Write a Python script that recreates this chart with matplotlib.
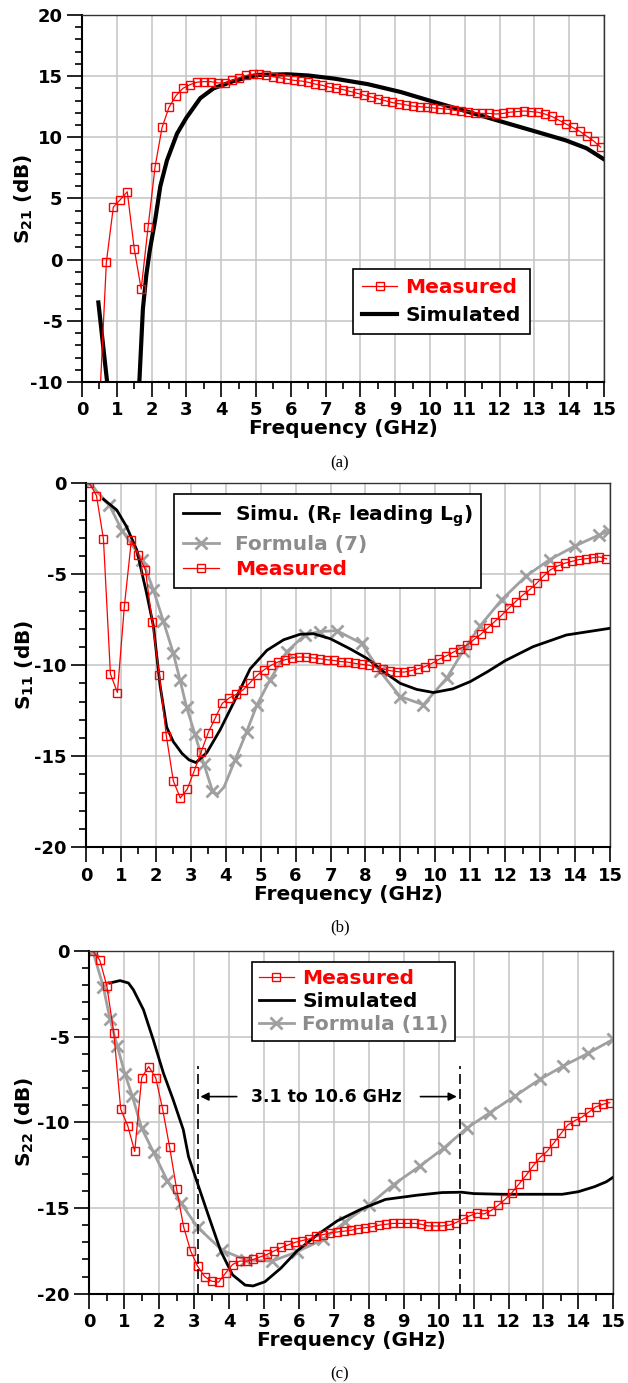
import numpy as np
import matplotlib
matplotlib.use('Agg')
import matplotlib.pyplot as plt
from matplotlib.ticker import MultipleLocator

plt.rcParams['font.family'] = 'DejaVu Sans'
plt.rcParams['font.weight'] = 'bold'
plt.rcParams['axes.labelweight'] = 'bold'
plt.rcParams['axes.unicode_minus'] = False
plt.rcParams['mathtext.default'] = 'regular'

RED = '#ff0000'
GRAY = '#a0a0a0'
GRAY_TXT = '#8c8c8c'

# ---- (a) S21 ----
f_meas_a = np.round(np.arange(0.5, 15.0, 0.2), 1)
s21_meas = [-12, -0.2, 4.3, 4.9, 5.55, 0.9, -2.4, 2.7, 7.6, 10.8,
            12.45, 13.4, 14.0, 14.3, 14.5, 14.55, 14.55, 14.45, 14.4, 14.65,
            14.85, 15.05, 15.15, 15.15, 15.05, 14.95, 14.85, 14.75, 14.65, 14.6,
            14.5, 14.35, 14.25, 14.1, 14.0, 13.9, 13.75, 13.6, 13.45, 13.3,
            13.15, 13.0, 12.85, 12.75, 12.65, 12.55, 12.5, 12.45, 12.4, 12.35,
            12.3, 12.2, 12.15, 12.1, 12.0, 11.95, 11.95, 11.9, 11.95, 12.05,
            12.1, 12.15, 12.1, 12.05, 11.9, 11.7, 11.4, 11.1, 10.8, 10.5,
            10.1, 9.7, 9.2]
f_sim_a1 = [0.47, 0.76]
s21_sim1 = [-3.5, -11.0]
f_sim_a2 = [1.63, 1.75, 1.85, 1.95, 2.1, 2.25, 2.44, 2.73, 3.0, 3.4, 3.78, 4.36,
            5.03, 5.9, 6.5, 7.24, 8.2, 9.16, 10.1, 11.07, 12.03, 13.0, 13.9, 14.5, 15.0]
s21_sim2 = [-11, -4.0, -1.2, 0.8, 3.2, 6.0, 8.1, 10.3, 11.6, 13.2, 14.0, 14.6,
            15.1, 15.15, 15.05, 14.8, 14.35, 13.7, 12.9, 12.1, 11.3, 10.5, 9.75, 9.1, 8.2]

# ---- (b) S11 ----
f_meas_bc = np.round(np.arange(0.1, 15.0, 0.2), 1)
s11_meas = [0, -0.68, -3.06, -10.48, -11.5, -6.74, -3.13, -3.94, -4.75, -7.65,
            -10.55, -13.88, -16.35, -17.3, -16.8, -15.8, -14.75, -13.7, -12.9, -12.1,
            -11.8, -11.6, -11.35, -10.95, -10.55, -10.25, -10.0, -9.82, -9.7, -9.6,
            -9.55, -9.56, -9.6, -9.65, -9.7, -9.74, -9.8, -9.83, -9.9, -9.95,
            -10.0, -10.1, -10.2, -10.3, -10.35, -10.38, -10.3, -10.2, -10.08, -9.9,
            -9.68, -9.5, -9.3, -9.1, -8.9, -8.6, -8.3, -7.95, -7.6, -7.25,
            -6.87, -6.5, -6.15, -5.85, -5.5, -5.1, -4.75, -4.55, -4.4, -4.3,
            -4.2, -4.15, -4.1, -4.05, -4.15]
f_sim_b = [0.5, 0.88, 1.16, 1.45, 1.73, 1.93, 2.12, 2.31, 2.5, 2.75, 2.95, 3.15, 3.46,
           3.84, 4.32, 4.7, 5.18, 5.66, 6.13, 6.51, 6.99, 7.56, 8.04, 8.52, 9.0,
           9.47, 9.95, 10.5, 11.0, 11.5, 12.0, 12.8, 13.75, 14.7, 15.0]
s11_sim = [-0.88, -1.47, -2.38, -3.65, -6.0, -7.84, -11.1, -13.4, -14.2, -14.85, -15.2, -15.35, -14.8,
           -13.55, -11.7, -10.2, -9.18, -8.6, -8.3, -8.27, -8.54, -9.1, -9.62, -10.36, -11.0,
           -11.33, -11.5, -11.3, -10.9, -10.35, -9.75, -8.98, -8.34, -8.06, -7.97]
f_form_b = [0.1, 0.67, 1.03, 1.61, 1.93, 2.21, 2.5, 2.69, 2.88, 3.12, 3.37, 3.62, 3.76,
            3.95, 4.27, 4.6, 4.89, 5.27, 5.75, 6.27, 6.7, 7.18, 7.89, 8.42, 8.99, 9.66,
            10.33, 10.8, 11.28, 11.9, 12.6, 13.27, 13.99, 14.7, 14.97]
s11_form = [0, -1.2, -2.6, -4.2, -5.86, -7.55, -9.34, -10.8, -12.3, -13.8, -15.4, -16.9, -17.1,
            -16.7, -15.2, -13.65, -12.2, -10.8, -9.25, -8.33, -8.15, -8.1, -8.8, -10.34, -11.72, -12.17,
            -10.7, -9.2, -7.84, -6.4, -5.1, -4.2, -3.46, -2.83, -2.64]

# ---- (c) S22 ----
s22_meas = [0, -0.54, -2.02, -4.76, -9.24, -10.2, -11.7, -7.39, -6.75, -7.39,
            -9.24, -11.46, -13.9, -16.1, -17.5, -18.4, -19.0, -19.27, -19.33, -18.8,
            -18.3, -18.1, -18.1, -18.0, -17.85, -17.7, -17.5, -17.3, -17.15, -17.0,
            -16.9, -16.8, -16.65, -16.55, -16.45, -16.4, -16.35, -16.3, -16.2, -16.15,
            -16.1, -16.0, -15.95, -15.9, -15.9, -15.9, -15.9, -15.95, -16.05, -16.05,
            -16.05, -16.0, -15.85, -15.65, -15.45, -15.3, -15.35, -15.15, -14.85, -14.5,
            -14.1, -13.6, -13.1, -12.55, -12.05, -11.7, -11.2, -10.65, -10.15, -9.9,
            -9.7, -9.4, -9.1, -8.95, -8.85]
f_sim_c = [0.59, 0.88, 1.12, 1.26, 1.55, 1.83, 2.12, 2.4, 2.69, 2.84, 3.13, 3.42,
           3.76, 4.1, 4.46, 4.69, 5.03, 5.49, 5.95, 6.53, 7.1, 7.8, 8.48, 9.4,
           10.1, 10.66, 11.0, 11.81, 12.96, 13.54, 14.0, 14.46, 14.8, 15.0]
s22_sim = [-1.87, -1.73, -1.87, -2.26, -3.43, -5.18, -7.12, -8.68, -10.43, -12.0, -13.76, -15.5,
           -17.5, -18.9, -19.5, -19.55, -19.3, -18.5, -17.5, -16.56, -15.75, -15.05, -14.5, -14.25,
           -14.1, -14.08, -14.16, -14.2, -14.2, -14.2, -14.05, -13.76, -13.47, -13.2]
f_form_c = [0.1, 0.4, 0.59, 0.8, 1.02, 1.23, 1.5, 1.84, 2.23, 2.63, 3.1, 3.8, 4.49, 5.24,
            5.95, 6.7, 7.33, 8.02, 8.71, 9.46, 10.15, 10.8, 11.47, 12.19, 12.9, 13.57, 14.28, 15.0]
s22_form = [0, -2.08, -3.97, -5.55, -7.18, -8.46, -10.35, -11.75, -13.4, -14.73, -16.13, -17.46, -18.04, -18.1,
            -17.55, -16.83, -15.8, -14.8, -13.63, -12.56, -11.5, -10.35, -9.43, -8.46, -7.49, -6.71, -5.97, -5.15]
band = [3.1, 10.6]


def style_axes(ax, ylo, yhi, ylab, ylab_x):
    ax.set_xlim(0, 15)
    ax.set_ylim(ylo, yhi)
    ax.xaxis.set_major_locator(MultipleLocator(1))
    ax.xaxis.set_minor_locator(MultipleLocator(0.5))
    ax.yaxis.set_major_locator(MultipleLocator(5))
    ax.yaxis.set_minor_locator(MultipleLocator(1))
    ax.grid(True, which='major', color='#c4c4c4', lw=1.1)
    ax.set_axisbelow(True)
    ax.tick_params(which='major', direction='out', length=11, width=1.2,
                   labelsize=13, pad=3, top=False, right=False)
    ax.tick_params(which='minor', direction='out', length=5, width=1.2,
                   top=False, right=False)
    for s in ['top', 'right']:
        ax.spines[s].set_linewidth(1.0)
        ax.spines[s].set_color('#333333')
    for s in ['left', 'bottom']:
        ax.spines[s].set_linewidth(1.5)
    ax.set_xlabel('Frequency (GHz)', fontsize=14.5, fontweight='bold', labelpad=0)
    ax.text(ylab_x, 0.5, ylab, transform=ax.transAxes, rotation=90,
            ha='center', va='center', fontsize=14.5, fontweight='bold')


def frame_legend(leg, colors):
    leg.get_frame().set_edgecolor('black')
    leg.get_frame().set_linewidth(1.2)
    for t, c in zip(leg.get_texts(), colors):
        t.set_color(c)


fig = plt.figure(figsize=(6.28, 13.83), dpi=100)
ax1 = fig.add_axes([0.1306, 0.7238, 0.8312, 0.2654])
ax2 = fig.add_axes([0.1369, 0.3874, 0.8344, 0.2632])
ax3 = fig.add_axes([0.1422, 0.0646, 0.8344, 0.2478])

sq = dict(marker='s', ms=5.5, mfc='none', mec=RED, mew=1.0)
xm = dict(marker='x', ms=8, mew=2.0)
leg_font = {'size': 14.5, 'weight': 'bold'}

# (a)
ax1.plot(f_sim_a1, s21_sim1, color='black', lw=3)
ax1.plot(f_sim_a2, s21_sim2, color='black', lw=3, label='Simulated')
ax1.plot(f_meas_a, s21_meas, color=RED, lw=0.9, label='Measured', **sq)
style_axes(ax1, -10, 20, r'S$_{21}$ (dB)', -0.111)
h, l = ax1.get_legend_handles_labels()
leg = ax1.legend([h[1], h[0]], [l[1], l[0]], loc='upper left', bbox_to_anchor=(0.519, 0.308),
                 borderaxespad=0, fancybox=False, framealpha=1, prop=leg_font,
                 handlelength=1.75, handletextpad=0.4, labelspacing=0.45, borderpad=0.45)
frame_legend(leg, [RED, 'black'])

# (b)
form_b_marks = [i for i in range(len(f_form_b)) if f_form_b[i] not in (3.76, 3.95)]
ax2.plot(f_form_b, s11_form, color=GRAY, lw=2, markevery=form_b_marks, label='Formula (7)', **xm)
ax2.plot(f_sim_b, s11_sim, color='black', lw=2, label=r'Simu. (R$_F$ leading L$_g$)')
ax2.plot(f_meas_bc, s11_meas, color=RED, lw=0.9, label='Measured', **sq)
style_axes(ax2, -20, 0, r'S$_{11}$ (dB)', -0.116)
h, l = ax2.get_legend_handles_labels()
leg = ax2.legend([h[1], h[0], h[2]], [l[1], l[0], l[2]], loc='upper left',
                 bbox_to_anchor=(0.1685, 0.970), borderaxespad=0, fancybox=False, framealpha=1,
                 prop=leg_font, handlelength=1.75, handletextpad=0.8,
                 labelspacing=0.3, borderpad=0.45)
frame_legend(leg, ['black', GRAY_TXT, RED])

# (c)
ax3.plot(f_form_c, s22_form, color=GRAY, lw=2, label='Formula (11)', **xm)
ax3.plot(f_sim_c, s22_sim, color='black', lw=2, label='Simulated')
ax3.plot(f_meas_bc, s22_meas, color=RED, lw=0.9, label='Measured', **sq)
style_axes(ax3, -20, 0, r'S$_{22}$ (dB)', -0.123)
ax3.vlines(band, -20, -6.7, colors='black', lw=1.2, linestyles=(0, (6, 3)))
ax3.text(6.8, -8.5, '%.1f to %.1f GHz' % (band[0], band[1]), ha='center', va='center', fontsize=12.5)
ax3.annotate('', xy=(band[0], -8.5), xytext=(4.3, -8.5),
             arrowprops=dict(arrowstyle='-|>', color='black', lw=1.2, mutation_scale=12))
ax3.annotate('', xy=(band[1], -8.5), xytext=(9.4, -8.5),
             arrowprops=dict(arrowstyle='-|>', color='black', lw=1.2, mutation_scale=12))
h, l = ax3.get_legend_handles_labels()
leg = ax3.legend([h[2], h[1], h[0]], [l[2], l[1], l[0]], loc='upper left',
                 bbox_to_anchor=(0.31, 0.969), borderaxespad=0, fancybox=False, framealpha=1,
                 prop=leg_font, handlelength=1.75, handletextpad=0.4,
                 labelspacing=0.2, borderpad=0.35)
frame_legend(leg, [RED, 'black', GRAY_TXT])

for y, cap in [(463, '(a)'), (927, '(b)'), (1374, '(c)')]:
    fig.text(340 / 628, 1 - y / 1383, cap, ha='center', va='center',
             family='Liberation Serif', fontweight='normal', fontsize=12)

fig.savefig('out.png', dpi=100)
